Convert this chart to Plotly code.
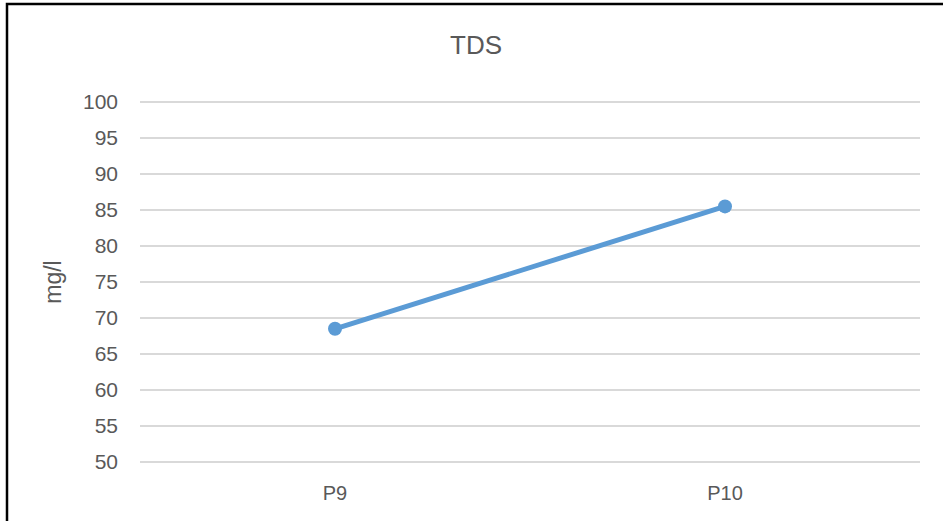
import plotly.graph_objects as go

categories = ["P9", "P10"]
tds_values = [68.5, 85.5]
y_ticks = list(range(50, 101, 5))

W, H = 943, 521
L, R, T, B = 140, 23, 100, 57
pw, ph = W - L - R, H - T - B
# 50 -> y=462 px, 100 -> y=102 px
upp = 50 / 360.0
y_lo = 50 - (H - B - 462) * upp
y_hi = 100 + (102 - T) * upp

fig = go.Figure()
fig.add_trace(go.Scatter(
    x=categories, y=tds_values, mode="lines+markers",
    line=dict(color="#5B9BD5", width=5),
    marker=dict(color="#5B9BD5", size=14),
    showlegend=False,
))

def px_x(p):
    return (p - L) / pw

def px_y(p):
    return (H - B - p) / ph

fig.update_layout(
    width=W, height=H,
    margin=dict(l=L, r=R, t=T, b=B),
    paper_bgcolor="white", plot_bgcolor="white",
    font=dict(family="Liberation Sans, Arial, sans-serif", color="#595959", size=20),
    title=dict(text="TDS", x=476 / W, xref="container", xanchor="center",
               y=1 - 45 / H, yref="container", yanchor="middle",
               font=dict(size=26, color="#595959")),
    xaxis=dict(type="category", range=[-0.5, 1.5], showgrid=False,
               showline=False, zeroline=False, ticks="", ticklabelstandoff=15,
               tickfont=dict(size=20, color="#595959")),
    yaxis=dict(range=[y_lo, y_hi], tickvals=y_ticks, showgrid=True,
               gridcolor="#D9D9D9", gridwidth=1.5, zeroline=False,
               showline=False, ticks="", ticklabelstandoff=21,
               tickfont=dict(size=21, color="#595959")),
    shapes=[dict(type="rect", xref="paper", yref="paper",
                 x0=px_x(7), x1=px_x(1000), y0=px_y(600), y1=px_y(4),
                 line=dict(color="black", width=2.5), fillcolor="rgba(0,0,0,0)",
                 layer="above")],
)
fig.update_yaxes(title=dict(text="mg/l", font=dict(size=23, color="#595959"), standoff=14))

fig.write_html("out.html", post_script="document.body.style.margin='0';",
               config={"displayModeBar": False})
